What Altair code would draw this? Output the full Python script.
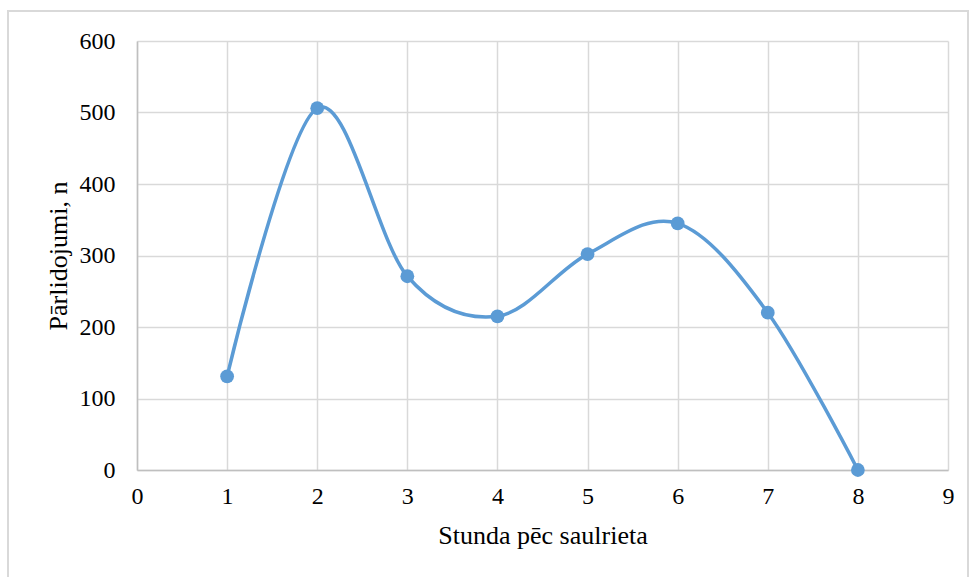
import altair as alt
import pandas as pd

hours = [1, 2, 3, 4, 5, 6, 7, 8]
flights = [131, 506, 271, 215, 302, 345, 220, 0]

df = pd.DataFrame({"h": hours, "n": flights})

FONT = "Liberation Serif"
BLUE = "#5b9bd5"

x = alt.X("h:Q", title="Stunda pēc saulrieta",
          scale=alt.Scale(domain=[0, 9], nice=False),
          axis=alt.Axis(values=list(range(10)), format="d", labelOverlap=False,
                        labelFlush=False, labelFont=FONT, titleFont=FONT,
                        labelFontSize=24, titleFontSize=26, labelPadding=14,
                        titlePadding=14, ticks=False))
y = alt.Y("n:Q", title="Pārlidojumi, n",
          scale=alt.Scale(domain=[0, 600], nice=False),
          axis=alt.Axis(values=list(range(0, 601, 100)), labelOverlap=False,
                        labelFlush=False, labelFont=FONT, titleFont=FONT,
                        labelFontSize=24, titleFontSize=26, labelPadding=22,
                        titlePadding=8, ticks=False))

border = alt.Chart(df).mark_rect(fill=None, stroke="#d9d9d9", strokeWidth=1.5).encode(
    x=alt.value(-129), x2=alt.value(831), y=alt.value(-30), y2=alt.value(620)
)

line = alt.Chart(df).mark_line(color=BLUE, strokeWidth=3.5, interpolate="cardinal").encode(x=x, y=y)
pts = alt.Chart(df).mark_circle(color=BLUE, size=190, opacity=1).encode(x=x, y=y)

chart = alt.layer(border, line, pts).properties(
    width=811, height=429,
    padding={"left": 137, "top": 41, "right": 25, "bottom": 107},
    autosize=alt.AutoSizeParams(type="none"),
).configure(font=FONT).configure_view(stroke=None).configure_axis(
    labelFont=FONT, titleFont=FONT, labelColor="#000", titleColor="#000",
    titleFontWeight="normal", gridColor="#d9d9d9", gridWidth=1.5,
    domainColor="#bfbfbf", domainWidth=1.5,
)

chart.save("out.html", embed_options={"renderer": "svg", "actions": False})
